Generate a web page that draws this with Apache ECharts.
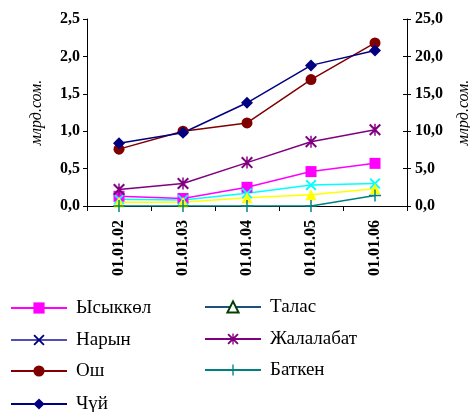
<!DOCTYPE html>
<html><head><meta charset="utf-8">
<script src="https://cdn.jsdelivr.net/npm/echarts@6/dist/echarts.min.js"></script>
<style>html,body{margin:0;padding:0;background:#fff}#c{width:470px;height:412px}</style>
</head><body><div id="c"></div>
<script>
const categories = ['01.01.02','01.01.03','01.01.04','01.01.05','01.01.06'];
const leftTicks = ['0,0','0,5','1,0','1,5','2,0','2,5'];
const rightTicks = ['0,0','5,0','10,0','15,0','20,0','25,0'];
const seriesNames = ['Ысыккөл','Нарын','Ош','Чүй','Талас','Жалалабат','Баткен'];
const ysykkol = [0.13, 0.10, 0.25, 0.46, 0.57];
const naryn = [0.09, 0.08, 0.17, 0.28, 0.30];
const osh = [0.76, 1.00, 1.11, 1.69, 2.18];
const chui = [0.84, 0.98, 1.38, 1.88, 2.08];
const talas = [0.05, 0.05, 0.11, 0.15, 0.23];
const jalalabat = [0.22, 0.30, 0.58, 0.86, 1.02];
const batken = [0.0, 0.0, 0.0, 0.0, 0.14];

const X = 'path://M0,1.2 L1.2,0 L5,3.8 L8.8,0 L10,1.2 L6.2,5 L10,8.8 L8.8,10 L5,6.2 L1.2,10 L0,8.8 L3.8,5 Z';
const AST = 'path://M0,1.2 L1.2,0 L5,3.8 L8.8,0 L10,1.2 L6.2,5 L10,8.8 L8.8,10 L5,6.2 L1.2,10 L0,8.8 L3.8,5 Z M4.4,0 L5.6,0 L5.6,10 L4.4,10 Z';
const PLUS = 'path://M4.4,0 L5.6,0 L5.6,4.4 L10,4.4 L10,5.6 L5.6,5.6 L5.6,10 L4.4,10 L4.4,5.6 L0,5.6 L0,4.4 L4.4,4.4 Z';

const font = '"Liberation Serif","Times New Roman",serif';
function mk(name, data, color, symbol, size){
  return {name, type:'line', data, symbol, symbolSize:size, z: 3,
    lineStyle:{color, width:1.5}, itemStyle:{color}, emphasis:{disabled:true}};
}
function lg(item, left, cy){
  return {orient:'vertical', left, top:cy-10, padding:0, itemWidth:56, itemHeight:14,
    textStyle:{fontFamily:font, fontSize:19, color:'#000', lineHeight:20, padding:[0,0,0,4]},
    data:[item]};
}
const chart = echarts.init(document.getElementById('c'));
chart.setOption({
  animation:false,
  textStyle:{fontFamily:font},
  grid:{left:87, right:63, top:19, bottom:206, outerBoundsMode:'none', containLabel:false},
  xAxis:{type:'category', data:categories, boundaryGap:true,
    axisLine:{lineStyle:{color:'#000', width:1}},
    axisTick:{show:true, length:5, lineStyle:{color:'#000'}},
    axisLabel:{rotate:90, fontFamily:font, fontWeight:'bold', fontSize:16, color:'#000', margin:14}},
  yAxis:[
    {type:'value', min:0, max:2.5, interval:0.5, position:'left',
      name:'млрд.сом.', nameLocation:'middle', nameGap:42, nameRotate:90,
      nameTextStyle:{fontFamily:font, fontStyle:'italic', fontSize:16, color:'#000'},
      axisLine:{show:true, lineStyle:{color:'#000'}},
      axisTick:{show:true, length:4, lineStyle:{color:'#000'}},
      splitLine:{show:false},
      axisLabel:{fontFamily:font, fontWeight:'bold', fontSize:16, color:'#000', margin:7,
        formatter:(v)=>leftTicks[Math.round(v/0.5)]}},
    {type:'value', min:0, max:25, interval:5, position:'right',
      name:'млрд.сом.', nameLocation:'middle', nameGap:49, nameRotate:90,
      nameTextStyle:{fontFamily:font, fontStyle:'italic', fontSize:16, color:'#000'},
      axisLine:{show:true, lineStyle:{color:'#000'}},
      axisTick:{show:true, length:4, lineStyle:{color:'#000'}},
      splitLine:{show:false},
      axisLabel:{fontFamily:font, fontWeight:'bold', fontSize:16, color:'#000', margin:8,
        formatter:(v)=>rightTicks[Math.round(v/5)]}},
    {type:'value', min:0, max:25, interval:5, position:'right',
      axisLine:{show:false}, axisLabel:{show:false}, splitLine:{show:false},
      axisTick:{show:true, inside:true, length:4, lineStyle:{color:'#000'}}}
  ],
  legend:[
    lg({name:seriesNames[0]}, 10, 308),
    lg({name:seriesNames[1], itemStyle:{color:'#000080'}, lineStyle:{color:'#5050b0'}}, 10, 340),
    lg({name:seriesNames[2]}, 10, 371),
    lg({name:seriesNames[3]}, 10, 404),
    lg({name:seriesNames[4], itemStyle:{color:'#ffffff', borderColor:'#004000', borderWidth:2}, lineStyle:{color:'#1f4f7f'}}, 204, 307),
    lg({name:seriesNames[5]}, 204, 339),
    lg({name:seriesNames[6]}, 204, 370)
  ],
  series:[
    mk(seriesNames[0], ysykkol, '#ff00ff', 'rect', 11),
    mk(seriesNames[1], naryn, '#00ffff', X, 11),
    mk(seriesNames[2], osh, '#800000', 'circle', 11),
    mk(seriesNames[3], chui, '#000080', 'diamond', 12),
    mk(seriesNames[4], talas, '#ffff00', 'triangle', 11),
    mk(seriesNames[5], jalalabat, '#800080', AST, 12),
    mk(seriesNames[6], batken, '#008080', PLUS, 12)
  ]
});
</script></body></html>
